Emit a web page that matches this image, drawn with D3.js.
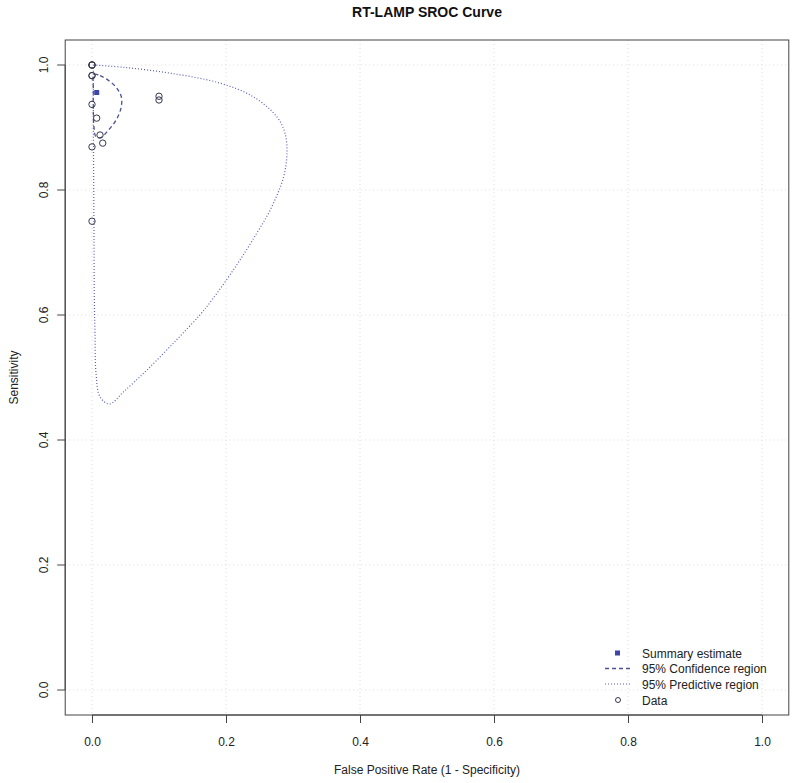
<!DOCTYPE html>
<html><head><meta charset="utf-8">
<script src="https://cdn.jsdelivr.net/npm/d3@7"></script>
<style>body{margin:0;background:#fff}svg{display:block;font-family:"Liberation Sans",Arial,sans-serif}</style>
</head><body><svg id="c" width="800" height="783"></svg>
<script>
const title = "RT-LAMP SROC Curve";
const xLabel = "False Positive Rate (1 - Specificity)";
const yLabel = "Sensitivity";
const ticks = [0, 0.2, 0.4, 0.6, 0.8, 1.0];
const tickLabels = ["0.0", "0.2", "0.4", "0.6", "0.8", "1.0"];
// study data: false positive rate, sensitivity
const dataFPR  = [0, 0, 0, 0, 0, 0, 0.007, 0.012, 0.016, 0, 0, 0.1, 0.1];
const dataSens = [1.0, 1.0, 1.0, 0.983, 0.983, 0.937, 0.915, 0.888, 0.875, 0.869, 0.75, 0.95, 0.944];
const summaryFPR = [0.007];
const summarySens = [0.956];
// 95% confidence region outline
const confFPR  = [0.003, 0.012, 0.025, 0.037, 0.044, 0.043, 0.036, 0.024, 0.013, 0.006, 0.003, 0.002, 0.002];
const confSens = [0.985, 0.983, 0.975, 0.963, 0.948, 0.930, 0.912, 0.895, 0.884, 0.885, 0.900, 0.930, 0.960];
// 95% predictive region outline
const predFPR  = [0.002, 0.05, 0.116, 0.191, 0.241, 0.276, 0.288, 0.291, 0.286, 0.266, 0.246, 0.216, 0.179, 0.161, 0.126, 0.082, 0.047, 0.026, 0.012, 0.006, 0.0045, 0.0035, 0.003, 0.0025, 0.002, 0.002];
const predSens = [1.0, 0.996, 0.987, 0.971, 0.949, 0.917, 0.891, 0.859, 0.821, 0.768, 0.731, 0.68, 0.624, 0.600, 0.560, 0.512, 0.477, 0.4576, 0.469, 0.507, 0.571, 0.624, 0.72, 0.82, 0.92, 1.0];
const legendLabels = ["Summary estimate", "95% Confidence region", "95% Predictive region", "Data"];

const svg = d3.select("#c");
const x = d3.scaleLinear().domain([0, 1]).range([92, 762]);
const y = d3.scaleLinear().domain([0, 1]).range([690, 65]);
const x0 = 65.2, x1 = 788.8, y0 = 40, y1 = 715;

// grid
const g = svg.append("g");
ticks.forEach(t => {
  g.append("line").attr("x1", x(t)).attr("x2", x(t)).attr("y1", y0).attr("y2", y1)
   .attr("stroke", "#dcdcdc").attr("stroke-dasharray", "1,3");
  g.append("line").attr("y1", y(t)).attr("y2", y(t)).attr("x1", x0).attr("x2", x1)
   .attr("stroke", "#dcdcdc").attr("stroke-dasharray", "1,3");
});

// box
svg.append("rect").attr("x", x0).attr("y", y0).attr("width", x1 - x0).attr("height", y1 - y0)
  .attr("fill", "none").attr("stroke", "#444").attr("stroke-width", 1);

// axes
const xa = svg.append("g").attr("transform", `translate(0,${y1})`)
  .call(d3.axisBottom(x).tickValues(ticks).tickFormat((d, i) => tickLabels[i]).tickSize(8).tickPadding(14));
xa.select(".domain").attr("d", `M${x(0)},0H${x(1)}`);
xa.selectAll("text").attr("font-size", 12).attr("fill", "#222").attr("font-family", "Liberation Sans, Arial");
xa.selectAll("line,path").attr("stroke", "#444");

const ya = svg.append("g").attr("transform", `translate(${x0},0)`)
  .call(d3.axisLeft(y).tickValues(ticks).tickFormat((d, i) => tickLabels[i]).tickSize(8));
ya.select(".domain").attr("d", `M0,${y(0)}V${y(1)}`);
ya.selectAll("line,path").attr("stroke", "#444");
ya.selectAll("text").attr("font-size", 12).attr("fill", "#222").attr("font-family", "Liberation Sans, Arial")
  .attr("x", 0).attr("dy", 0).attr("y", 0)
  .attr("text-anchor", "middle")
  .attr("transform", d => `translate(${44 - x0 + 4},${y(d)}) rotate(-90)`);
ya.selectAll(".tick").attr("transform", "translate(0,0)");
ya.selectAll(".tick line").attr("y1", d => y(d)).attr("y2", d => y(d));

// titles
svg.append("text").attr("x", 427).attr("y", 17).attr("text-anchor", "middle")
  .attr("font-size", 14).attr("font-weight", "bold").attr("fill", "#111").text(title);
svg.append("text").attr("x", 427).attr("y", 774).attr("text-anchor", "middle")
  .attr("font-size", 12).attr("fill", "#222").text(xLabel);
svg.append("text").attr("transform", `translate(18,${(y0 + y1) / 2}) rotate(-90)`).attr("text-anchor", "middle")
  .attr("font-size", 12).attr("fill", "#222").text(yLabel);

// predictive region
const pred = predFPR.map((v, i) => [v, predSens[i]]);
svg.append("path").attr("d", d3.line().x(d => x(d[0])).y(d => y(d[1])).curve(d3.curveCatmullRom)(pred))
  .attr("fill", "none").attr("stroke", "#5a60b4").attr("stroke-width", 1.2).attr("stroke-dasharray", "1,2");

// confidence region
const conf = confFPR.map((v, i) => [v, confSens[i]]);
svg.append("path").attr("d", d3.line().x(d => x(d[0])).y(d => y(d[1])).curve(d3.curveCatmullRomClosed)(conf))
  .attr("fill", "none").attr("stroke", "#4c5294").attr("stroke-width", 1.3).attr("stroke-dasharray", "4,3");

// data
svg.append("g").selectAll("circle").data(dataFPR.map((v, i) => [v, dataSens[i]])).join("circle")
  .attr("cx", d => x(d[0])).attr("cy", d => y(d[1])).attr("r", 3.2)
  .attr("fill", "none").attr("stroke", "#36384e").attr("stroke-width", 1);

// summary
svg.append("g").selectAll("rect").data(summaryFPR.map((v, i) => [v, summarySens[i]])).join("rect")
  .attr("x", d => x(d[0]) - 2.5).attr("y", d => y(d[1]) - 2.5).attr("width", 5).attr("height", 5)
  .attr("fill", "#3b46a6");

// legend
const ly = [653, 668.5, 684, 700];
const lg = svg.append("g");
lg.append("rect").attr("x", 615).attr("y", ly[0] - 2.5).attr("width", 5).attr("height", 5).attr("fill", "#3b46a6");
lg.append("line").attr("x1", 605).attr("x2", 630).attr("y1", ly[1]).attr("y2", ly[1])
  .attr("stroke", "#4c5294").attr("stroke-width", 1.3).attr("stroke-dasharray", "4,3");
lg.append("line").attr("x1", 605).attr("x2", 630).attr("y1", ly[2]).attr("y2", ly[2])
  .attr("stroke", "#5a60b4").attr("stroke-width", 1.2).attr("stroke-dasharray", "1,2");
lg.append("circle").attr("cx", 618).attr("cy", ly[3]).attr("r", 2.5).attr("fill", "none").attr("stroke", "#36384e");
legendLabels.forEach((t, i) => {
  lg.append("text").attr("x", 642).attr("y", ly[i] + 4.5).attr("font-size", 12).attr("fill", "#222").text(t);
});
</script></body></html>
